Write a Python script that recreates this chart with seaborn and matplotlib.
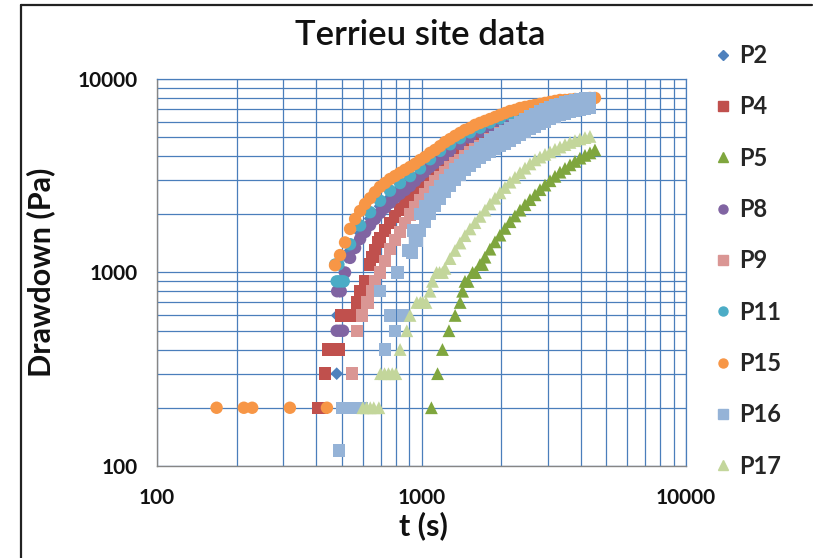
import matplotlib
matplotlib.use("Agg")
import matplotlib.pyplot as plt
from matplotlib.lines import Line2D
from matplotlib.ticker import FuncFormatter, NullFormatter, LogLocator
import pandas as pd
import seaborn as sns

# ---------------- data ----------------
series_names = ["P2", "P4", "P5", "P8", "P9", "P11", "P15", "P16", "P17"]

t_P2 = [478, 480, 490, 500, 510, 520, 537, 586, 639, 697, 760, 829, 905, 987, 1077, 1175,
        1282, 1398, 1525, 1664, 1815, 1980, 2160, 2357, 2571, 2805, 3060, 3338, 3642, 3973, 4334]
d_P2 = [300, 600, 800, 900, 1000, 1200, 1300, 1600, 1900, 2200, 2450, 2750, 3050, 3400, 3800, 4150,
        4500, 4850, 5200, 5550, 5850, 6150, 6450, 6750, 7000, 7200, 7400, 7550, 7650, 7750, 7800]

t_P4 = [408, 420, 432, 445, 458, 472, 488, 495, 508, 522, 540, 556, 570, 585, 600, 612, 625, 639,
        652, 667, 685, 697, 728, 760, 794, 829, 866, 905, 945, 987, 1031, 1077, 1125, 1175, 1227,
        1282, 1339, 1398, 1460, 1525, 1593, 1664, 1815, 1980, 2160, 2357, 2571, 2805, 3060, 3338,
        3642, 3973, 4334]
d_P4 = [200, 200, 300, 400, 400, 400, 400, 600, 600, 600, 600, 600, 700, 800, 800, 900, 900, 1100,
        1200, 1300, 1440, 1500, 1650, 1800, 1950, 2120, 2300, 2450, 2600, 2750, 2900, 3060, 3230, 3400, 3580,
        3750, 3920, 4100, 4270, 4450, 4620, 4800, 5150, 5500, 5850, 6200, 6500, 6800, 7050, 7250,
        7400, 7550, 7650]

t_P5 = [1090, 1150, 1200, 1270, 1340, 1400, 1430, 1460, 1500, 1560, 1600, 1664, 1700,
        1738, 1815, 1896, 1980, 2068, 2160, 2256, 2357, 2462, 2571, 2686, 2805, 2930, 3060,
        3196, 3338, 3487, 3642, 3804, 3973, 4150, 4334, 4527]
d_P5 = [200, 300, 400, 500, 600, 700, 800, 900, 900, 1000, 1000, 1100, 1100,
        1200, 1320, 1440, 1560, 1690, 1830, 1960, 2100, 2240, 2380, 2520, 2680, 2830, 2980,
        3140, 3300, 3450, 3600, 3750, 3900, 4030, 4150, 4300]

t_P8 = [478, 492, 505, 480, 495, 505, 514, 537, 561, 586, 612, 639, 667, 697, 728, 760, 794,
        829, 866, 905, 945, 987, 1031, 1077, 1125, 1175, 1227, 1282, 1398, 1525, 1664, 1815,
        1980, 2160, 2357, 2571, 2805, 3060, 3338, 3642, 3973, 4334]
d_P8 = [500, 500, 500, 800, 800, 900, 1000, 1190, 1340, 1490, 1620, 1760, 1890, 2030, 2160, 2290, 2430,
        2550, 2670, 2800, 2970, 3150, 3310, 3510, 3680, 3860, 4050, 4250, 4610, 4960, 5330, 5650,
        6000, 6290, 6590, 6830, 7080, 7250, 7430, 7520, 7610, 7700]

t_P9 = [545, 570, 595, 625, 650, 667, 697, 728, 760, 794, 829, 866, 905, 945, 987, 1031, 1077,
        1125, 1175, 1227, 1282, 1339, 1398, 1460, 1525, 1593, 1664, 1815, 1980, 2160, 2357, 2571,
        2805, 3060, 3338, 3642, 3973, 4334]
d_P9 = [300, 500, 600, 700, 800, 900, 1000, 1150, 1320, 1470, 1620, 1800, 1990, 2180, 2370, 2550, 2750,
        2950, 3120, 3300, 3480, 3650, 3820, 4000, 4170, 4350, 4520, 4880, 5250, 5600, 5950, 6300,
        6600, 6850, 7050, 7250, 7400, 7500]

t_P11 = [472, 485, 478, 488, 498, 508, 537, 586, 639, 697, 760, 829, 905, 987, 1077, 1175, 1282,
         1398, 1525, 1664, 1815, 1980, 2160, 2357, 2571, 2805, 3060, 3338, 3642, 3973, 4334]
d_P11 = [1100, 1100, 900, 900, 900, 900, 1400, 1750, 2050, 2350, 2650, 2900, 3150, 3450, 3850, 4250, 4600,
         4950, 5300, 5600, 5950, 6250, 6550, 6800, 7050, 7250, 7400, 7550, 7650, 7750, 7850]

t_P15 = [168, 213, 229, 318, 439,
         471, 492, 514, 537, 561, 586, 612, 639, 667, 697, 728, 760, 794, 829, 866, 905, 945, 987,
         1031, 1077, 1125, 1175, 1227, 1282, 1339, 1398, 1460, 1525, 1593, 1664, 1738, 1815, 1896,
         1980, 2068, 2160, 2256, 2357, 2462, 2571, 2686, 2805, 2930, 3060, 3196, 3338, 3487, 3642,
         3804, 3973, 4150, 4334, 4527]
d_P15 = [200, 200, 200, 200, 200,
         1090, 1230, 1430, 1680, 1890, 2080, 2260, 2420, 2600, 2770, 2900, 3040, 3150, 3270, 3390, 3510, 3640, 3810,
         3950, 4150, 4300, 4500, 4720, 4890, 5080, 5260, 5450, 5580, 5790, 5930, 6070, 6210, 6360,
         6520, 6670, 6830, 6920, 7080, 7170, 7250, 7340, 7430, 7520, 7610, 7700, 7790, 7790, 7830,
         7880, 7880, 7930, 7980, 7980]

t_P16 = [487, 500, 522, 545, 570, 595, 697, 728, 760, 794, 810, 850, 890, 920, 930, 960,
         987, 1031, 1077, 1125, 1175, 1227, 1282, 1339, 1398, 1460, 1525, 1593, 1664, 1738, 1815,
         1896, 1980, 2068, 2160, 2256, 2357, 2462, 2571, 2686, 2805, 2930, 3060, 3196, 3338, 3487,
         3642, 3804, 3973, 4150, 4334,
         905, 945, 987, 1031, 1077, 1125, 1175, 1227, 1282, 1339, 1398, 1460, 1525, 1593, 1664,
         1738, 1815, 1896, 1980, 2068, 2160, 2256, 2357, 2462, 2571, 2686, 2805, 2930, 3060, 3196,
         3338, 3487, 3642, 3804, 3973, 4150, 4334]
d_P16 = [120, 200, 200, 200, 200, 200, 800, 400, 600, 500, 1000, 600, 1300, 1270, 1650, 1450,
         2000, 2200, 2400, 2600, 2800, 3000, 3200, 3400, 3600, 3800, 4000, 4200, 4400, 4600, 4800,
         5000, 5200, 5400, 5600, 5800, 6000, 6200, 6400, 6600, 6800, 7000, 7150, 7300, 7450, 7550,
         7650, 7750, 7850, 7950, 8000,
         1300, 1480, 1650, 1820, 2000, 2200, 2400, 2600, 2800, 3000, 3200, 3380, 3550, 3720, 3900,
         4050, 4200, 4350, 4500, 4650, 4800, 4980, 5150, 5330, 5500, 5680, 5850, 6030, 6200, 6350,
         6500, 6630, 6750, 6850, 6950, 7030, 7100]

t_P17 = [600, 620, 640, 660, 690, 700, 725, 750, 775, 800, 830, 880, 905, 960, 990, 1010, 1040,
         1077, 1100, 1140, 1170, 1200,
         1227, 1282, 1339, 1398, 1460, 1525, 1593, 1664, 1738, 1815, 1896, 1980, 2068, 2160, 2256,
         2357, 2462, 2571, 2686, 2805, 2930, 3060, 3196, 3338, 3487, 3642, 3804, 3973, 4150, 4334]
d_P17 = [200, 200, 200, 200, 200, 300, 300, 300, 300, 300, 400, 500, 600, 700, 700, 700, 700,
         800, 900, 1000, 1000, 1000,
         1050, 1180, 1300, 1420, 1550, 1680, 1810, 1950, 2100, 2260, 2420, 2580, 2750, 2930, 3100,
         3280, 3460, 3640, 3820, 3950, 4080, 4200, 4330, 4450, 4580, 4700, 4800, 4900, 4980, 5050]

series_t = [t_P2, t_P4, t_P5, t_P8, t_P9, t_P11, t_P15, t_P16, t_P17]
series_d = [d_P2, d_P4, d_P5, d_P8, d_P9, d_P11, d_P15, d_P16, d_P17]

# ---------------- styles ----------------
colors = {"P2": "#4F81BD", "P4": "#C0504D", "P5": "#7FA63E", "P8": "#8064A2", "P9": "#DA9694",
          "P11": "#4BACC6", "P15": "#F79646", "P16": "#95B3D7", "P17": "#C3D69B"}
markers = {"P2": "D", "P4": "s", "P5": "^", "P8": "o", "P9": "s",
           "P11": "o", "P15": "o", "P16": "s", "P17": "^"}
msizes = {"P2": 42, "P4": 80, "P5": 85, "P8": 80, "P9": 80,
          "P11": 80, "P15": 80, "P16": 80, "P17": 85}

frames = []
for name, tt, dd in zip(series_names, series_t, series_d):
    frames.append(pd.DataFrame({"t": tt, "D": dd, "series": name}))
df = pd.concat(frames, ignore_index=True)

sns.set_theme(style="white")
plt.rcParams["font.family"] = ["Lato", "DejaVu Sans"]

W, H = 813, 558
fig = plt.figure(figsize=(W / 100, H / 100), dpi=100)
L, R, T, B = 157, 686, 79, 466
ax = fig.add_axes([L / W, 1 - B / H, (R - L) / W, (B - T) / H])

sns.scatterplot(data=df, x="t", y="D", hue="series", style="series", size="series",
                hue_order=series_names, style_order=series_names, size_order=series_names,
                palette=colors, markers=markers, sizes=msizes, linewidth=0,
                edgecolor="none", legend=False, ax=ax, zorder=3)

ax.set_xscale("log")
ax.set_yscale("log")
ax.set_xlim(100, 10000)
ax.set_ylim(100, 10000)
ax.set_xlabel("")
ax.set_ylabel("")

gridc = "#4A7EBB"
ax.xaxis.set_minor_locator(LogLocator(base=10, subs=range(2, 10)))
ax.yaxis.set_minor_locator(LogLocator(base=10, subs=range(2, 10)))
ax.grid(True, which="both", color=gridc, lw=0.9)
ax.set_axisbelow(True)

fmt = FuncFormatter(lambda v, p: f"{v:.0f}")
ax.xaxis.set_major_formatter(fmt)
ax.yaxis.set_major_formatter(fmt)
ax.xaxis.set_minor_formatter(NullFormatter())
ax.yaxis.set_minor_formatter(NullFormatter())

for s in ["left", "bottom"]:
    ax.spines[s].set_color("#868686")
    ax.spines[s].set_linewidth(1.0)
for s in ["top", "right"]:
    ax.spines[s].set_color(gridc)
    ax.spines[s].set_linewidth(0.9)

ax.tick_params(axis="both", which="major", length=5, width=1, color="#868686",
               labelsize=15, labelcolor="#111111")
ax.tick_params(axis="both", which="minor", length=0)
ax.tick_params(axis="x", which="major", pad=11)
ax.tick_params(axis="y", which="major", pad=9)
for lab in ax.get_xticklabels() + ax.get_yticklabels():
    lab.set_fontweight("bold")

fig.text(420 / W, 1 - 35 / H, "Terrieu site data", ha="center", va="center",
         fontsize=25, fontweight="semibold", color="#111111")
fig.text(423 / W, 1 - 526 / H, "t (s)", ha="center", va="center",
         fontsize=22, fontweight="bold", color="#111111")
fig.text(41 / W, 1 - 272 / H, "Drawdown (Pa)", ha="center", va="center", rotation=90,
         fontsize=22, fontweight="bold", color="#111111")

handles = [Line2D([], [], linestyle="none", marker=markers[n], color=colors[n],
                  markersize=6.5 if markers[n] != "D" else 5) for n in series_names]
fig.legend(handles, series_names, loc="upper left", bbox_to_anchor=(712 / W, 1 - 44 / H),
           frameon=False, prop={"size": 17, "weight": "bold"}, labelspacing=1.2,
           handletextpad=0.25, handlelength=0.9, borderaxespad=0, borderpad=0)

# outer frame of the original screenshot
fig.add_artist(Line2D([21 / W, 21 / W], [0, 1 - 5 / H], color="#222222", lw=1.6))
fig.add_artist(Line2D([21 / W, 0.999], [1 - 5 / H, 1 - 5 / H], color="#222222", lw=1.6))

fig.savefig("out.png", dpi=100)
